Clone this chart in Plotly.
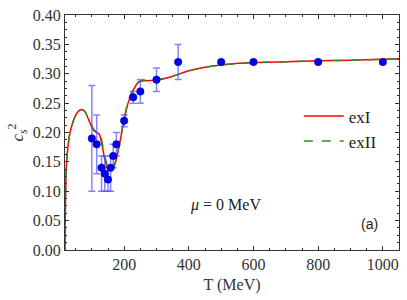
import plotly.graph_objects as go

# Data points (lattice-like) with asymmetric error bars
T_pts = [100, 115, 130, 140, 150, 158, 166, 176, 200, 228, 250, 300, 367, 500, 600, 800, 1000]
cs2_pts = [0.19, 0.18, 0.14, 0.13, 0.12, 0.14, 0.16, 0.18, 0.22, 0.26, 0.27, 0.29, 0.32, 0.32, 0.32, 0.32, 0.32]
err_up = [0.09, 0.05, 0.02, 0.03, 0.02, 0.02, 0.02, 0.02, 0.01, 0.01, 0.02, 0.02, 0.03, 0, 0, 0, 0]
err_dn = [0.09, 0.05, 0.04, 0.03, 0.02, 0.04, 0.02, 0.02, 0.01, 0.01, 0.02, 0.02, 0.03, 0, 0, 0, 0]

# Model curves
T_curve = [17, 18, 19, 21, 25, 32, 40, 48, 58, 68, 78, 90, 105, 115, 123, 130, 140, 151, 160,
           168, 181, 197, 212, 228, 243, 260, 300, 340, 367, 400, 450, 500, 600, 700, 800, 900, 1000, 1050]
exI = [0.0, 0.06, 0.10, 0.14, 0.170, 0.199, 0.215, 0.227, 0.236, 0.239, 0.236, 0.222, 0.204, 0.200,
       0.197, 0.183, 0.155, 0.137, 0.136, 0.140, 0.167, 0.213, 0.250, 0.272, 0.285, 0.288, 0.289,
       0.294, 0.299, 0.305, 0.311, 0.315, 0.319, 0.3205, 0.322, 0.323, 0.3246, 0.3257]
exII = [0.0, 0.06, 0.10, 0.14, 0.170, 0.199, 0.215, 0.227, 0.236, 0.239, 0.236, 0.223, 0.206, 0.201,
        0.199, 0.188, 0.160, 0.140, 0.137, 0.142, 0.170, 0.216, 0.253, 0.274, 0.286, 0.289, 0.290,
        0.294, 0.299, 0.305, 0.311, 0.315, 0.319, 0.3205, 0.322, 0.323, 0.3246, 0.3257]

font_serif = "Liberation Serif"

fig = go.Figure()
fig.add_trace(go.Scatter(x=T_curve, y=exI, mode="lines", name="exI",
                         line=dict(color="#ff0000", width=1.5, shape="spline", smoothing=0.6)))
fig.add_trace(go.Scatter(x=T_curve, y=exII, mode="lines", name="exII",
                         line=dict(color="#2e8b22", width=1.5, dash="dash", shape="spline", smoothing=0.6)))
fig.add_trace(go.Scatter(x=T_pts, y=cs2_pts, mode="markers", showlegend=False,
                         marker=dict(color="#0000ee", size=7.5, line=dict(color="#00008b", width=0.5)),
                         error_y=dict(type="data", symmetric=False, array=err_up, arrayminus=err_dn,
                                      color="rgba(80,80,255,0.7)", thickness=1.5, width=3.5)))

axis_common = dict(showline=True, linecolor="#333", linewidth=1, mirror="ticks",
                   ticks="inside", ticklen=4, tickcolor="#333", showgrid=False, zeroline=False,
                   tickfont=dict(family=font_serif, size=16, color="#333"))

fig.update_xaxes(range=[17, 1050], tickvals=[200, 400, 600, 800, 1000],
                 minor=dict(dtick=50, tick0=0, ticks="inside", ticklen=2, tickcolor="#333"),
                 title=dict(text="T (MeV)", font=dict(family=font_serif, size=16, color="#333"), standoff=6),
                 **axis_common)
fig.update_yaxes(range=[0, 0.40], dtick=0.05, tickformat=".2f",
                 minor=dict(dtick=0.0125, tick0=0, ticks="inside", ticklen=2, tickcolor="#333"),
                 title=dict(text="<i>c</i><sub><i>s</i></sub><sup>2</sup>",
                            font=dict(family=font_serif, size=17, color="#333"), standoff=4),
                 **axis_common)

fig.add_annotation(xref="paper", yref="paper", x=0.48, y=0.145, text="<i>μ</i> = 0 MeV",
                   showarrow=False, font=dict(family=font_serif, size=16, color="#222"))
fig.add_annotation(xref="paper", yref="paper", x=0.942, y=0.07, text="(a)",
                   showarrow=False, font=dict(family="Liberation Sans", size=14, color="#222"))

fig.update_layout(width=407, height=300, margin=dict(l=65, r=8, t=15, b=50),
                  plot_bgcolor="white", paper_bgcolor="white",
                  legend=dict(x=0.70, y=0.645, xanchor="left", yanchor="top",
                              bgcolor="rgba(0,0,0,0)", font=dict(family=font_serif, size=17, color="#222"),
                              itemwidth=40, tracegroupgap=6))
fig.write_html("out.html", config={"displayModeBar": False},
               post_script="document.body.style.margin='0px';")
